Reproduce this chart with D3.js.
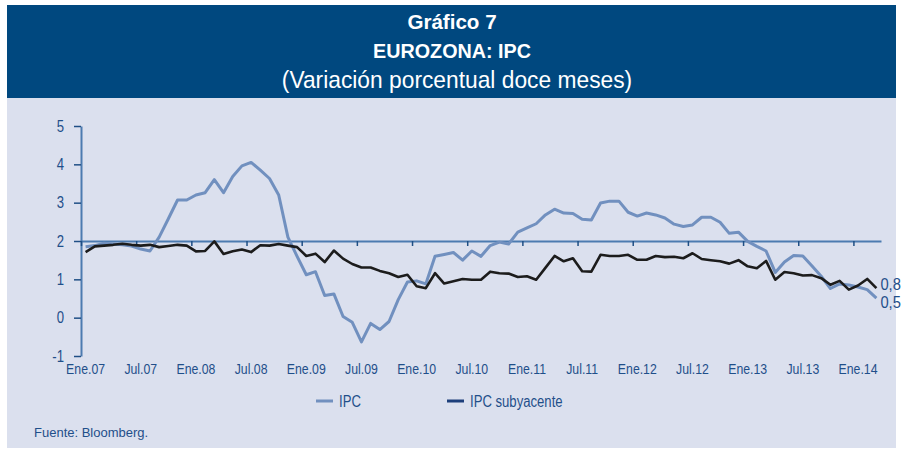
<!DOCTYPE html>
<html>
<head>
<meta charset="utf-8">
<script src="https://cdn.jsdelivr.net/npm/d3@7"></script>
<style>
  html, body { margin: 0; padding: 0; background: #ffffff; }
  svg { display: block; }
</style>
</head>
<body>
<svg id="chart" width="904" height="449"></svg>
<script>
// ---------------- DATA ----------------
const titleLines = ["Gráfico 7", "EUROZONA: IPC", "(Variación porcentual doce meses)"];
const seriesNames = ["IPC", "IPC subyacente"];
// monthly categories: Ene.07 ... Mar.14 (87 months)
const monthNames = ["Ene","Feb","Mar","Abr","May","Jun","Jul","Ago","Sep","Oct","Nov","Dic"];
const years = ["07","08","09","10","11","12","13","14"];
const months = [];
years.forEach(yy => monthNames.forEach(m => months.push(m + "." + yy)));
months.splice(87); // Ene.07 .. Mar.14

const tickLabels = ["Ene.07","Jul.07","Ene.08","Jul.08","Ene.09","Jul.09","Ene.10","Jul.10",
                    "Ene.11","Jul.11","Ene.12","Jul.12","Ene.13","Jul.13","Ene.14"];
const yTicks = [-1, 0, 1, 2, 3, 4, 5];

const ipc = [
  1.85, 1.88, 1.94, 1.92, 1.90, 1.87, 1.79, 1.74, 2.10, 2.58, 3.07, 3.07,   // 2007
  3.20, 3.26, 3.60, 3.26, 3.68, 3.96, 4.05, 3.85, 3.63, 3.20, 2.10, 1.60,   // 2008
  1.12, 1.20, 0.58, 0.62, 0.03, -0.12, -0.63, -0.15, -0.31, -0.10, 0.47, 0.93, // 2009
  0.96, 0.88, 1.60, 1.65, 1.70, 1.50, 1.74, 1.60, 1.88, 1.97, 1.92, 2.23,   // 2010
  2.34, 2.45, 2.68, 2.83, 2.73, 2.72, 2.57, 2.55, 2.99, 3.04, 3.04, 2.75,   // 2011
  2.65, 2.73, 2.68, 2.60, 2.44, 2.38, 2.42, 2.62, 2.62, 2.49, 2.20, 2.23,   // 2012
  1.99, 1.86, 1.74, 1.18, 1.45, 1.62, 1.61, 1.35, 1.08, 0.76, 0.88, 0.85,   // 2013
  0.80, 0.73, 0.51                                                          // 2014
];
const core = [
  1.71, 1.86, 1.88, 1.90, 1.93, 1.90, 1.88, 1.90, 1.84, 1.87, 1.90, 1.88,   // 2007
  1.73, 1.74, 1.99, 1.66, 1.73, 1.78, 1.71, 1.89, 1.88, 1.92, 1.88, 1.84,   // 2008
  1.61, 1.67, 1.45, 1.75, 1.54, 1.40, 1.31, 1.31, 1.22, 1.16, 1.06, 1.12,   // 2009
  0.82, 0.77, 1.16, 0.89, 0.95, 1.01, 0.99, 0.99, 1.20, 1.16, 1.15, 1.06,   // 2010
  1.08, 0.99, 1.30, 1.61, 1.47, 1.55, 1.21, 1.20, 1.64, 1.61, 1.61, 1.64,   // 2011
  1.51, 1.51, 1.61, 1.58, 1.59, 1.55, 1.68, 1.53, 1.50, 1.47, 1.41, 1.50,   // 2012
  1.34, 1.29, 1.48, 0.99, 1.19, 1.16, 1.10, 1.11, 1.03, 0.86, 0.96, 0.73,   // 2013
  0.84, 1.01, 0.77                                                          // 2014
];
const source = "Fuente: Bloomberg.";

// ---------------- STYLE ----------------
const C = {
  banner: "#00487f",
  panel: "#dbe0ee",
  ipc: "#7190bf",
  core: "#1c1c1c",
  coreLegend: "#1d3f7b",
  axis: "#4c7bb0",
  tick: "#1f4f85",
  text: "#1f4f8a"
};
const sans = "'Liberation Sans', Arial, sans-serif";
const NARROW = 0.82;

// condense text horizontally (reference uses a condensed typeface)
function condense(sel, f) {
  sel.each(function () {
    const t = d3.select(this);
    const x0 = +t.attr("x") || 0;
    const y0 = +t.attr("y") || 0;
    t.attr("x", 0).attr("y", 0)
     .attr("transform", `translate(${x0},${y0}) scale(${f},1)`);
  });
}

const svg = d3.select("#chart");

// background panels
svg.append("rect").attr("x", 7).attr("y", 98).attr("width", 889).attr("height", 350).attr("fill", C.panel);
svg.append("rect").attr("x", 7).attr("y", 5).attr("width", 889).attr("height", 93).attr("fill", C.banner);

// titles
const t1 = svg.append("text").attr("x", 452).attr("y", 29).attr("text-anchor", "middle")
  .attr("font-family", sans).attr("font-weight", "bold").attr("font-size", 21).attr("fill", "#fff")
  .text(titleLines[0]);
const t2 = svg.append("text").attr("x", 452).attr("y", 58).attr("text-anchor", "middle")
  .attr("font-family", sans).attr("font-weight", "bold").attr("font-size", 21).attr("fill", "#fff")
  .text(titleLines[1]);
const t3 = svg.append("text").attr("x", 457).attr("y", 88).attr("text-anchor", "middle")
  .attr("font-family", sans).attr("font-size", 24).attr("fill", "#fff")
  .text(titleLines[2]);
condense(t1, 0.98); condense(t2, 0.94); condense(t3, 0.95);

// scales
const x = d3.scaleBand().domain(months).range([81, 881]).padding(0);
const xb = d3.scaleLinear().domain([0, months.length]).range([81, 881]);
const y = d3.scaleLinear().domain([-1, 5]).range([356, 126]);
const cx = m => x(m) + x.bandwidth() / 2;

// y axis
const gy = svg.append("g").attr("transform", "translate(81,0)")
  .call(d3.axisLeft(y).tickValues(yTicks).tickSize(7).tickPadding(10).tickSizeOuter(0)
        .tickFormat(d => String(d).replace("−", "-")));
gy.select(".domain").attr("stroke", C.axis).attr("stroke-width", 2);
gy.selectAll(".tick line").attr("stroke", C.tick).attr("stroke-width", 1.5);
gy.selectAll(".tick text").attr("font-family", sans).attr("font-size", 16).attr("fill", C.text);
condense(gy.selectAll(".tick text"), NARROW);

// x axis line at y=2 with ticks at half-year boundaries
const tickIdx = tickLabels.map(l => months.indexOf(l));
const gx = svg.append("g").attr("transform", `translate(0,${y(2)})`)
  .call(d3.axisBottom(xb).tickValues(tickIdx).tickSize(5).tickSizeOuter(0).tickFormat(""));
gx.select(".domain").attr("stroke", C.axis).attr("stroke-width", 2);
gx.selectAll(".tick line").attr("stroke", C.tick).attr("stroke-width", 1.5);

// x labels below the plot
const gl = svg.append("g").attr("transform", `translate(0,${y(-1)})`)
  .call(d3.axisBottom(x).tickValues(tickLabels).tickSize(0).tickPadding(7));
gl.select(".domain").remove();
gl.selectAll(".tick text").attr("font-family", sans).attr("font-size", 15).attr("fill", C.text);
condense(gl.selectAll(".tick text"), NARROW);

// lines
const line = d3.line().x((d, i) => cx(months[i])).y(d => y(d)).curve(d3.curveLinear);
svg.append("path").datum(ipc).attr("d", line).attr("fill", "none")
  .attr("stroke", C.ipc).attr("stroke-width", 3).attr("stroke-linejoin", "round");
svg.append("path").datum(core).attr("d", line).attr("fill", "none")
  .attr("stroke", C.core).attr("stroke-width", 2.6).attr("stroke-linejoin", "round");

// end labels
const fmt = d3.formatLocale({decimal: ",", thousands: ".", grouping: [3], currency: ["", "€"]}).format(".1f");
const last = months.length - 1;
const e1 = svg.append("text").attr("x", cx(months[last]) + 4).attr("y", y(core[last]) + 2)
  .attr("font-family", sans).attr("font-size", 16).attr("fill", C.text)
  .text(fmt(core[last]));
const e2 = svg.append("text").attr("x", cx(months[last]) + 4).attr("y", y(ipc[last]) + 10)
  .attr("font-family", sans).attr("font-size", 16).attr("fill", C.text)
  .text(fmt(ipc[last]));
condense(e1, 0.92); condense(e2, 0.92);

// legend
const legend = [
  {name: seriesNames[0], color: C.ipc, x: 316},
  {name: seriesNames[1], color: C.coreLegend, x: 447}
];
legend.forEach(l => {
  svg.append("line").attr("x1", l.x).attr("x2", l.x + 17).attr("y1", 401).attr("y2", 401)
    .attr("stroke", l.color).attr("stroke-width", 3);
  const t = svg.append("text").attr("x", l.x + 23).attr("y", 407).attr("font-family", sans)
    .attr("font-size", 16).attr("fill", C.text).text(l.name);
  condense(t, NARROW);
});

// source
svg.append("text").attr("x", 34).attr("y", 437).attr("font-family", sans)
  .attr("font-size", 13).attr("fill", C.text).text(source);
</script>
</body>
</html>
